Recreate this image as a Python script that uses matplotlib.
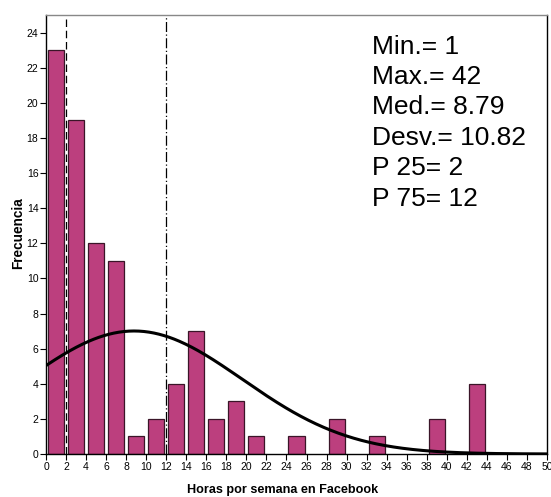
import matplotlib
matplotlib.use("Agg")
import matplotlib.pyplot as plt
import numpy as np

plt.rcParams['font.family'] = ['Liberation Sans', 'DejaVu Sans']

# histogram bins (left edges, width 2) and counts
bin_left = [0, 2, 4, 6, 8, 10, 12, 14, 16, 18, 20, 24, 28, 32, 38, 42]
counts = [23, 19, 12, 11, 1, 2, 4, 7, 2, 3, 1, 1, 2, 1, 2, 4]
bin_width = 2

mean = 8.79
sd = 10.82
p25 = 2
p75 = 12

stats_lines = ["Min.= 1", "Max.= 42", "Med.= 8.79", "Desv.= 10.82", "P 25= 2", "P 75= 12"]

W, H = 551, 497
fig = plt.figure(figsize=(W / 100, H / 100), dpi=100)
ax = fig.add_axes([46 / W, 1 - 454 / H, (547 - 46) / W, (454 - 15) / H])

centers = np.array(bin_left) + bin_width / 2
ax.bar(centers, counts, width=1.6, color="#BC3F7E", edgecolor="#3a1528", linewidth=0.9, zorder=2)

# fitted normal curve
n = sum(counts)
xs = np.linspace(0, 50, 400)
ys = n * bin_width / (sd * np.sqrt(2 * np.pi)) * np.exp(-0.5 * ((xs - mean) / sd) ** 2)
ax.plot(xs, ys, color="black", linewidth=2.2, zorder=3)

ax.axvline(p25, color="black", linewidth=0.9, linestyle=(0, (6, 3)), zorder=1)
ax.axvline(p75, color="black", linewidth=0.9, linestyle=(0, (8, 2, 1, 2)), zorder=1)

ax.set_xlim(0, 50)
ax.set_ylim(0, 25)
ax.set_xticks(range(0, 51, 2))
ax.set_yticks(range(0, 25, 2))
ax.tick_params(axis="both", labelsize=7.5, length=4, width=0.8, direction="out", pad=1.5)

ax.spines["top"].set_color("#888888")
ax.spines["right"].set_color("black")
for s in ax.spines.values():
    s.set_linewidth(1.0)

fig.text(283 / W, 1 - 490 / H, "Horas por semana en Facebook", fontsize=9.1,
         fontweight="bold", ha="center", va="center")
fig.text(18 / W, 1 - 233 / H, "Frecuencia", fontsize=9.8, fontweight="bold",
         ha="center", va="center", rotation=90)

y0 = 22.8
for i, line in enumerate(stats_lines):
    ax.text(32.5, y0 - i * 1.73, line, fontsize=19, va="baseline", ha="left")

fig.savefig("out.png", dpi=100)
